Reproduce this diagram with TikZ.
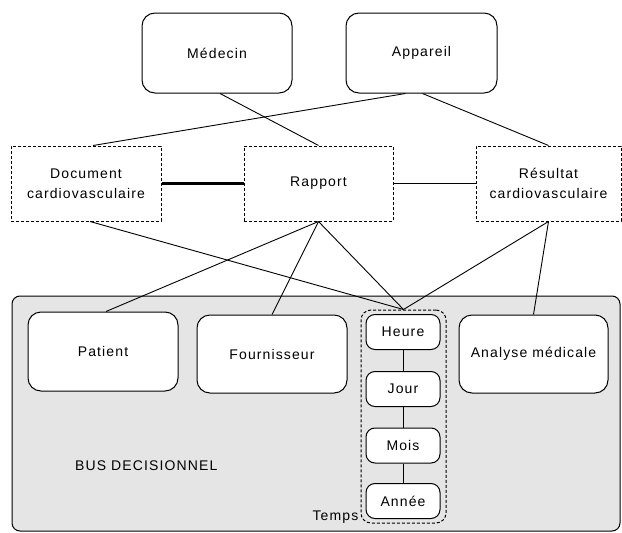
\documentclass[tikz,border=0pt]{standalone}
\usepackage{fontspec}
\setmainfont{Liberation Sans}[LetterSpace=8]
\begin{document}
\begin{tikzpicture}[x=1pt,y=-1pt,
  every node/.style={font=\fontsize{14}{20}\selectfont, inner sep=0pt},
  entity/.style={draw, line width=1pt, fill=white, rounded corners=13pt, minimum width=150pt, minimum height=80pt},
  fact/.style={draw, line width=1pt, fill=white, dash pattern=on 3pt off 2pt, minimum width=150pt, minimum height=75pt, align=center},
  level/.style={draw, line width=1pt, fill=white, rounded corners=9pt, minimum width=74pt, minimum height=35pt},
  link/.style={line width=0.9pt},
  thicklink/.style={line width=2.5pt}
]
\useasboundingbox (0,0) rectangle (622,533);
% bus
\node[draw, line width=1pt, fill=gray!20, rounded corners=8pt, minimum width=608pt, minimum height=235pt] (bus) at (316,413.5) {};
\node[anchor=west] (buslabel) at (75,466) {BUS DECISIONNEL};
% top
\node[entity] (medecin) at (217,53) {Médecin};
\node[entity, minimum width=151pt] (appareil) at (421.5,53) {Appareil};
% facts
\node[fact] (document) at (86,183.5) {Document\\cardiovasculaire};
\node[fact, minimum width=149pt] (rapport) at (318.5,183.5) {Rapport};
\node[fact, minimum width=145pt] (resultat) at (548.5,183.5) {Résultat\\cardiovasculaire};
% dimensions
\node[entity, minimum height=79pt] (patient) at (103,351.5) {Patient};
\node[entity, minimum height=78pt] (fournisseur) at (272,354) {Fournisseur};
\node[entity, minimum width=149pt, minimum height=78pt] (analyse) at (533.5,354) {Analyse médicale};
\node[draw, line width=1pt, dash pattern=on 3pt off 2pt, rounded corners=10pt, minimum width=85pt, minimum height=213pt] (temps) at (403.5,416.5) {};
\node[anchor=east] (tempslabel) at ([xshift=-2pt,yshift=6pt]temps.south west) {Temps};
\node[level] (heure) at (403,332) {Heure};
\node[level] (jour) at (403,389) {Jour};
\node[level] (mois) at (403,445.5) {Mois};
\node[level] (annee) at (403,501) {Année};
% connectors
\draw[link] ([xshift=3pt]medecin.south) -- (rapport.north);
\draw[link] ([xshift=-16pt]appareil.south) -- ([xshift=7pt]document.north);
\draw[link] ([xshift=1pt]appareil.south) -- (resultat.north);
\draw[thicklink] (document.east) -- (rapport.west);
\draw[link] (rapport.east) -- (resultat.west);
\draw[link] ([xshift=4pt]document.south) -- (temps.north);
\draw[link] (rapport.south) -- ([xshift=3pt]patient.north);
\draw[link] (rapport.south) -- (fournisseur.north);
\draw[link] (rapport.south) -- (temps.north);
\draw[link] (resultat.south) -- (temps.north);
\draw[link] (resultat.south) -- (analyse.north);
\draw[link] (heure.south) -- (jour.north);
\draw[link] (jour.south) -- (mois.north);
\draw[link] (mois.south) -- (annee.north);
\end{tikzpicture}
\end{document}
